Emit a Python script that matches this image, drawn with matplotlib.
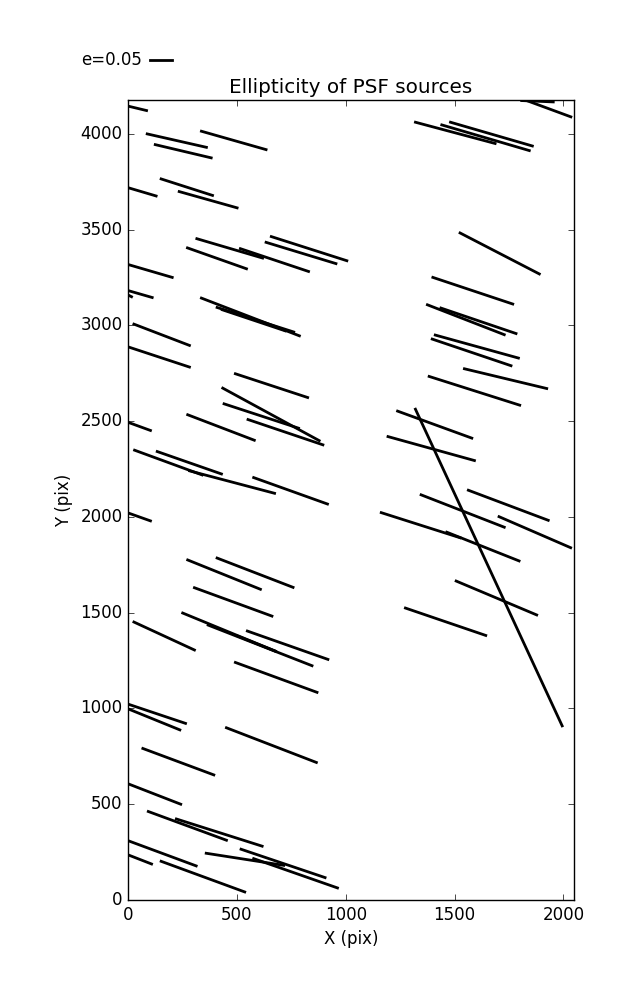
import matplotlib
matplotlib.use('Agg')
import matplotlib.pyplot as plt

# whisker end points (pix) for each PSF source
x_start = [4, 88, 125, 337, 4, 152, 235, 316, 273, 516, 634, 658, 4, 4, 2,
           337, 409, 433, 27, 4, 493, 435, 441, 551, 4, 274, 30, 134, 283, 577,
           4, 274, 409, 305, 27, 251, 368, 501, 548, 493, 4, 4, 452, 68, 4,
           93, 222, 4, 4, 152, 359, 519, 577,
           1808, 1831, 1320, 1441, 1481, 1525, 1400, 1375, 1437, 1411, 1397,
           1545, 1383, 1238, 1194, 1320, 1346, 1563, 1704, 1163, 1464, 1507, 1274]
y_start = [4143, 3999, 3943, 4013, 3717, 3764, 3698, 3452, 3404, 3400, 3433, 3463, 3316, 3180, 3157,
           3142, 3093, 3081, 3006, 2886, 2747, 2672, 2590, 2508, 2492, 2533, 2348, 2341, 2240, 2205,
           2019, 1775, 1785, 1630, 1451, 1498, 1435, 1379, 1404, 1240, 1021, 996, 899, 791, 605,
           462, 423, 308, 234, 202, 244, 265, 216,
           4173, 4173, 4060, 4046, 4060, 3482, 3250, 3107, 3090, 2949, 2928,
           2773, 2733, 2552, 2419, 2562, 2115, 2139, 2001, 2022, 1920, 1665, 1524]
x_end = [85, 360, 382, 634, 129, 388, 501, 618, 544, 829, 955, 1005, 203, 111, 16,
         787, 761, 722, 282, 282, 825, 878, 783, 895, 103, 580, 340, 429, 673, 916,
         103, 608, 758, 661, 305, 677, 845, 677, 918, 868, 264, 238, 865, 394, 242,
         452, 616, 313, 108, 536, 715, 905, 962,
         1953, 2034, 1686, 1843, 1857, 1889, 1767, 1728, 1782, 1793, 1759,
         1923, 1799, 1579, 1591, 1994, 1728, 1930, 2033, 1525, 1796, 1877, 1643]
y_end = [4121, 3929, 3874, 3917, 3675, 3678, 3613, 3351, 3295, 3281, 3322, 3337, 3250, 3145, 3149,
         2945, 2965, 2971, 2895, 2782, 2623, 2398, 2463, 2376, 2451, 2400, 2219, 2224, 2123, 2067,
         1979, 1622, 1632, 1482, 1305, 1299, 1223, 1299, 1256, 1084, 922, 888, 718, 653, 500,
         312, 281, 178, 188, 42, 181, 117, 63,
         4166, 4088, 3949, 3912, 3936, 3268, 3111, 2951, 2957, 2829, 2789,
         2670, 2583, 2411, 2294, 909, 1946, 1982, 1839, 1891, 1770, 1488, 1381]

e_key = 0.05
scale = 2000.0  # pix of whisker per unit ellipticity

plt.style.use('classic')
fig = plt.figure(figsize=(6.37, 10), dpi=100, facecolor='white')
ax = fig.add_axes([0.201, 0.1, 0.7, 0.8])

for i in range(len(x_start)):
    ax.plot([x_start[i], x_end[i]], [y_start[i], y_end[i]], color='black', lw=2)

# key whisker above the axes
ax.plot([103, 103 + e_key * scale], [4387, 4387], color='black', lw=2, clip_on=False)
ax.text(62, 4387, 'e=%.2f' % e_key, ha='right', va='center', fontsize=12)

ax.set_xlim(0, 2048)
ax.set_ylim(0, 4176)
ax.set_xticks([0, 500, 1000, 1500, 2000])
ax.set_yticks([0, 500, 1000, 1500, 2000, 2500, 3000, 3500, 4000])
ax.set_xlabel('X (pix)')
ax.set_ylabel('Y (pix)')
ax.set_title('Ellipticity of PSF sources')

fig.savefig('out.png', dpi=100, facecolor='white')
